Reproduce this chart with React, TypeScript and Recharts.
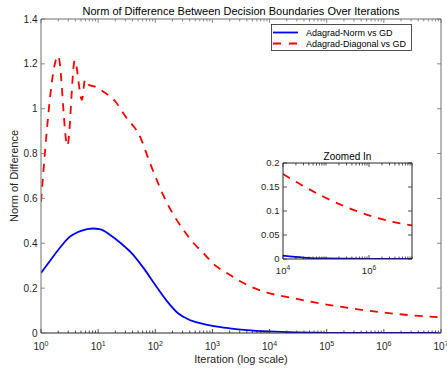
import React from "react";
import { LineChart, Line, XAxis, YAxis, Legend } from "recharts";

const FONT = '"Liberation Sans", Arial, Helvetica, sans-serif';
const INK = "#262626";
const FRAME = "#6e6e6e";

const seriesNames = ["Adagrad-Norm vs GD", "Adagrad-Diagonal vs GD"];

// Adagrad-Norm vs GD
const normIter = [1, 1.4, 2, 3, 5, 8, 11, 16, 25, 40, 63, 100, 160, 250, 400, 630, 1000, 2000, 4000, 10000, 30000, 100000, 1000000, 10000000];
const normDiff = [0.268, 0.318, 0.37, 0.423, 0.455, 0.466, 0.462, 0.438, 0.4, 0.352, 0.288, 0.214, 0.142, 0.088, 0.058, 0.043, 0.032, 0.021, 0.013, 0.007, 0.003, 0.001, 0.0003, 0.0001];

// Adagrad-Diagonal vs GD
const diagIter = [1, 2, 2.9, 3.9, 5.2, 5.9, 7, 8.5, 12, 20, 30, 54, 81, 160, 310, 470, 700, 1000, 2000, 3000, 8000, 10000, 30000, 100000, 300000, 1000000, 3000000, 10000000];
const diagDiff = [0.585, 1.235, 0.835, 1.215, 1.04, 1.13, 1.105, 1.1, 1.078, 1.032, 0.966, 0.876, 0.757, 0.58, 0.46, 0.4, 0.356, 0.312, 0.26, 0.232, 0.184, 0.177, 0.152, 0.127, 0.108, 0.091, 0.079, 0.07];

const decades = [1, 10, 100, 1000, 10000, 100000, 1000000, 10000000];
const minorSteps = [2, 3, 4, 5, 6, 7, 8, 9];
const yTicks = [0, 0.2, 0.4, 0.6, 0.8, 1, 1.2, 1.4];
const insetXLabels = [10000, 1000000];
const insetYTicks = [0, 0.05, 0.1, 0.15, 0.2];

const xTicks = [
  ...decades,
  ...decades.slice(0, -1).flatMap((d) => minorSteps.map((m) => m * d)),
].sort((a, b) => a - b);
const insetXTicks = xTicks.filter((v) => v >= 10000);

const normData = normIter.map((x, i) => ({ x, y: normDiff[i] }));
const diagData = diagIter.map((x, i) => ({ x, y: diagDiff[i] }));
const normInset = normData.filter((d) => d.x >= 10000);
const diagInset = diagData.filter((d) => d.x >= 10000);

function XTick(props: any) {
  const { x, y, payload, side, labeled, stroke, fontSize, gap } = props;
  const v = payload.value;
  const major = labeled.includes(v);
  const len = major ? 4 : 2.5;
  const dir = side === "bottom" ? -1 : 1;
  return (
    <g>
      <line x1={x} x2={x} y1={y} y2={y + dir * len} stroke={stroke} strokeWidth={0.8} />
      {side === "bottom" && major && (
        <text x={x} y={y + gap} textAnchor="middle" fontSize={fontSize} fill={INK} fontFamily={FONT}>
          10
          <tspan dy={-4} fontSize={fontSize * 0.7}>
            {Math.round(Math.log10(v))}
          </tspan>
        </text>
      )}
    </g>
  );
}

function YTick(props: any) {
  const { x, y, payload, side, stroke, fontSize } = props;
  const dir = side === "left" ? 1 : -1;
  return (
    <g>
      <line x1={x} x2={x + dir * 4} y1={y} y2={y} stroke={stroke} strokeWidth={0.8} />
      {side === "left" && (
        <text x={x - 3.5} y={y} dy="0.35em" textAnchor="end" fontSize={fontSize} fill={INK} fontFamily={FONT}>
          {String(payload.value)}
        </text>
      )}
    </g>
  );
}

const renderLegend = (props: any) => {
  const payload = [...(props.payload || [])].sort(
    (a: any, b: any) => seriesNames.indexOf(a.value) - seriesNames.indexOf(b.value)
  );
  return (
    <svg width={141} height={27} style={{ display: "block" }}>
      <rect x={0.5} y={0.5} width={140} height={26} fill="#fff" stroke={INK} strokeWidth={0.8} />
      {payload.map((e: any, i: number) => (
        <g key={i}>
          <line
            x1={2}
            x2={27}
            y1={8.5 + i * 11}
            y2={8.5 + i * 11}
            stroke={e.color}
            strokeWidth={1.8}
            strokeDasharray={e.value === seriesNames[1] ? "8 8" : undefined}
          />
          <text x={35} y={11.7 + i * 11} fontSize={9} fill="#000" fontFamily={FONT}>
            {e.value}
          </text>
        </g>
      ))}
    </svg>
  );
};

export default function App() {
  return (
    <div style={{ position: "absolute", left: 0, top: 0, width: 447, height: 369, background: "#fff" }}>
      <LineChart width={447} height={369} margin={{ top: 18, right: 5, bottom: 0, left: 0 }}>
        <XAxis
          dataKey="x"
          type="number"
          scale="log"
          domain={[1, 10000000]}
          allowDataOverflow
          ticks={xTicks}
          interval={0}
          height={36}
          tickSize={0}
          tickMargin={0}
          tickLine={false}
          axisLine={{ stroke: INK, strokeWidth: 1 }}
          tick={(p: any) => <XTick {...p} side="bottom" labeled={decades} stroke={INK} fontSize={10} gap={17} />}
          label={(p: any) => {
            const vb = p.viewBox;
            return (
              <text x={vb.x + vb.width / 2} y={vb.y + 30} textAnchor="middle" fontSize={11} fill={INK} fontFamily={FONT}>
                Iteration (log scale)
              </text>
            );
          }}
        />
        <XAxis
          xAxisId="top"
          orientation="top"
          dataKey="x"
          type="number"
          scale="log"
          domain={[1, 10000000]}
          allowDataOverflow
          ticks={xTicks}
          interval={0}
          height={1}
          tickSize={0}
          tickMargin={0}
          tickLine={false}
          axisLine={{ stroke: FRAME, strokeWidth: 1 }}
          tick={(p: any) => <XTick {...p} side="top" labeled={decades} stroke={FRAME} fontSize={10} gap={0} />}
          label={(p: any) => {
            const vb = p.viewBox;
            return (
              <text x={vb.x + vb.width / 2} y={vb.y + vb.height - 4} textAnchor="middle" fontSize={11} fill="#000" fontFamily={FONT}>
                Norm of Difference Between Decision Boundaries Over Iterations
              </text>
            );
          }}
        />
        <YAxis
          type="number"
          domain={[0, 1.4]}
          allowDataOverflow
          ticks={yTicks}
          interval={0}
          width={41}
          tickSize={0}
          tickMargin={0}
          tickLine={false}
          axisLine={{ stroke: FRAME, strokeWidth: 1 }}
          tick={(p: any) => <YTick {...p} side="left" stroke={FRAME} fontSize={10} />}
          label={(p: any) => {
            const vb = p.viewBox;
            const cx = vb.x + 14;
            const cy = vb.y + vb.height / 2;
            return (
              <text x={cx} y={cy} transform={`rotate(-90 ${cx} ${cy})`} textAnchor="middle" dy="0.35em" fontSize={11} fill={INK} fontFamily={FONT}>
                Norm of Difference
              </text>
            );
          }}
        />
        <YAxis
          yAxisId="right"
          orientation="right"
          type="number"
          domain={[0, 1.4]}
          allowDataOverflow
          ticks={yTicks}
          interval={0}
          width={1}
          tickSize={0}
          tickMargin={0}
          tickLine={false}
          axisLine={{ stroke: FRAME, strokeWidth: 1 }}
          tick={(p: any) => <YTick {...p} side="right" stroke={FRAME} fontSize={10} />}
        />
        <Line
          data={normData}
          dataKey="y"
          name={seriesNames[0]}
          type="monotone"
          stroke="#0000ff"
          strokeWidth={1.8}
          dot={false}
          activeDot={false}
          isAnimationActive={false}
        />
        <Line
          data={diagData}
          dataKey="y"
          name={seriesNames[1]}
          xAxisId="top"
          yAxisId="right"
          type="monotone"
          stroke="#ff0000"
          strokeWidth={1.8}
          strokeDasharray="8 7"
          dot={false}
          activeDot={false}
          isAnimationActive={false}
        />
        <Legend
          layout="horizontal"
          verticalAlign="middle"
          align="center"
          content={renderLegend}
          wrapperStyle={{ left: 271, top: 24, width: 141, height: 27 }}
        />
      </LineChart>

      <div style={{ position: "absolute", left: 250, top: 145, width: 170, height: 135 }}>
        <LineChart width={170} height={135} margin={{ top: 17, right: 7, bottom: 0, left: 0 }}>
          <XAxis
            dataKey="x"
            type="number"
            scale="log"
            domain={[10000, 10000000]}
            allowDataOverflow
            ticks={insetXTicks}
            interval={0}
            height={21}
            tickSize={0}
            tickMargin={0}
            tickLine={false}
            axisLine={{ stroke: INK, strokeWidth: 1 }}
            tick={(p: any) => <XTick {...p} side="bottom" labeled={insetXLabels} stroke={INK} fontSize={9.5} gap={15} />}
          />
          <XAxis
            xAxisId="top"
            orientation="top"
            dataKey="x"
            type="number"
            scale="log"
            domain={[10000, 10000000]}
            allowDataOverflow
            ticks={insetXTicks}
            interval={0}
            height={1}
            tickSize={0}
            tickMargin={0}
            tickLine={false}
            axisLine={{ stroke: INK, strokeWidth: 1 }}
            tick={(p: any) => <XTick {...p} side="top" labeled={insetXLabels} stroke={INK} fontSize={9.5} gap={0} />}
            label={(p: any) => {
              const vb = p.viewBox;
              return (
                <text x={vb.x + vb.width / 2} y={vb.y + vb.height - 3.5} textAnchor="middle" fontSize={10} fill="#000" fontFamily={FONT}>
                  Zoomed In
                </text>
              );
            }}
          />
          <YAxis
            type="number"
            domain={[0, 0.2]}
            allowDataOverflow
            ticks={insetYTicks}
            interval={0}
            width={33}
            tickSize={0}
            tickMargin={0}
            tickLine={false}
            axisLine={{ stroke: INK, strokeWidth: 1 }}
            tick={(p: any) => <YTick {...p} side="left" stroke={INK} fontSize={9.5} />}
          />
          <YAxis
            yAxisId="right"
            orientation="right"
            type="number"
            domain={[0, 0.2]}
            allowDataOverflow
            ticks={insetYTicks}
            interval={0}
            width={1}
            tickSize={0}
            tickMargin={0}
            tickLine={false}
            axisLine={{ stroke: INK, strokeWidth: 1 }}
            tick={(p: any) => <YTick {...p} side="right" stroke={INK} fontSize={9.5} />}
          />
          <Line
            data={normInset}
            dataKey="y"
            type="monotone"
            stroke="#0000ff"
            strokeWidth={1.8}
            dot={false}
            activeDot={false}
            isAnimationActive={false}
          />
          <Line
            data={diagInset}
            dataKey="y"
            xAxisId="top"
            yAxisId="right"
            type="monotone"
            stroke="#ff0000"
            strokeWidth={1.8}
            strokeDasharray="8 7"
            dot={false}
            activeDot={false}
            isAnimationActive={false}
          />
        </LineChart>
      </div>
    </div>
  );
}
